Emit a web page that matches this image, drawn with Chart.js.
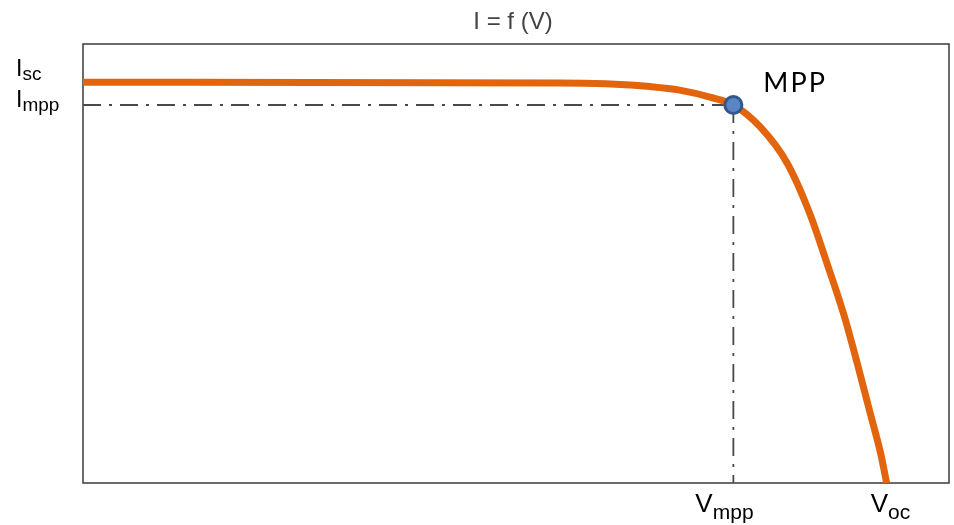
<!DOCTYPE html>
<html>
<head>
<meta charset="utf-8">
<script src="https://cdn.jsdelivr.net/npm/chart.js@4/dist/chart.umd.min.js"></script>
<style>
  html, body { margin: 0; padding: 0; background: #fff; }
</style>
</head>
<body>
<canvas id="chart" width="954" height="525"></canvas>
<script>
// I-V curve (arbitrary units, 0..100 on both axes)
const voltage = [0, 55.1, 60.9, 65.5, 68.9, 72.4, 75.1, 78.2, 81.3, 83.9, 85.9, 87.8, 89.4, 90.9, 92.1, 92.8];
const current = [91.3, 91.1, 90.9, 90.3, 89.5, 87.9, 86.1, 81.1, 72.9, 61.5, 50.1, 38.7, 27.3, 15.9, 6.8, 0];

const mppV = 75.1;
const mppI = 86.1;
const iscValue = 91.3;
const vocValue = 92.8;

const chartTitle = 'I = f (V)';

// main letter plus subscript, drawn from a left edge
function drawSub(ctx, main, sub, left, y, size, subSize, drop) {
    ctx.textAlign = 'left';
    ctx.textBaseline = 'alphabetic';
    ctx.font = size + 'px "Liberation Sans", Arial, sans-serif';
    const w1 = ctx.measureText(main).width;
    ctx.fillText(main, left, y);
    ctx.font = subSize + 'px "Liberation Sans", Arial, sans-serif';
    ctx.fillText(sub, left + w1, y + drop);
}

const labelsPlugin = {
    id: 'ivLabels',
    beforeDatasetsDraw(chart) {
        const { ctx, chartArea } = chart;
        ctx.save();
        ctx.strokeStyle = '#3a3a3a';
        ctx.lineWidth = 1.5;
        ctx.strokeRect(chartArea.left, chartArea.top, chartArea.right - chartArea.left, chartArea.bottom - chartArea.top);
        ctx.restore();
    },
    afterDraw(chart) {
        const { ctx, scales } = chart;
        const x = scales.x, y = scales.y;
        ctx.save();
        ctx.fillStyle = '#000';

        drawSub(ctx, 'I', 'sc', 16, y.getPixelForValue(iscValue) - 6, 23, 19, 4);
        drawSub(ctx, 'I', 'mpp', 16, y.getPixelForValue(mppI) + 2, 23, 19, 4);
        drawSub(ctx, 'V', 'mpp', x.getPixelForValue(mppV) - 38, 512, 26, 21, 7);
        drawSub(ctx, 'V', 'oc', x.getPixelForValue(vocValue) - 16, 512, 26, 21, 7);

        ctx.font = '27px Lato, "Open Sans", sans-serif';
        ctx.letterSpacing = '2px';
        ctx.textAlign = 'left';
        ctx.fillText('MPP', x.getPixelForValue(mppV) + 30, y.getPixelForValue(mppI) - 13);
        ctx.letterSpacing = '0px';

        ctx.fillStyle = '#444';
        ctx.font = '24px "Liberation Sans", Arial, sans-serif';
        ctx.textAlign = 'center';
        ctx.fillText(chartTitle, 513, 29);
        ctx.restore();
    }
};

const ivPoints = voltage.map((v, i) => ({ x: v, y: current[i] }));

new Chart(document.getElementById('chart'), {
    type: 'line',
    data: {
        datasets: [
            {
                label: 'MPP',
                data: [{ x: mppV, y: mppI }],
                showLine: false,
                pointRadius: 8.5,
                pointBackgroundColor: '#5b86c5',
                pointBorderColor: '#34578c',
                pointBorderWidth: 3,
                order: 0
            },
            {
                label: 'I = f (V)',
                data: ivPoints,
                borderColor: '#e2650e',
                borderWidth: 7,
                pointRadius: 0,
                cubicInterpolationMode: 'monotone',
                order: 1
            },
            {
                label: 'Impp',
                data: [{ x: 0, y: mppI }, { x: mppV, y: mppI }],
                borderColor: '#4a4a4a',
                borderWidth: 1.8,
                borderDash: [18, 8, 3, 8],
                pointRadius: 0,
                order: 2
            },
            {
                label: 'Vmpp',
                data: [{ x: mppV, y: mppI }, { x: mppV, y: 0 }],
                borderColor: '#4a4a4a',
                borderWidth: 1.8,
                borderDash: [18, 8, 3, 8],
                pointRadius: 0,
                order: 2
            }
        ]
    },
    options: {
        responsive: false,
        animation: false,
        layout: { autoPadding: false, padding: { left: 83, right: 5, top: 44, bottom: 42 } },
        scales: {
            x: { type: 'linear', min: 0, max: 100, display: false },
            y: { type: 'linear', min: 0, max: 100, display: false }
        },
        plugins: {
            legend: { display: false },
            tooltip: { enabled: false }
        }
    },
    plugins: [labelsPlugin]
});
</script>
</body>
</html>
